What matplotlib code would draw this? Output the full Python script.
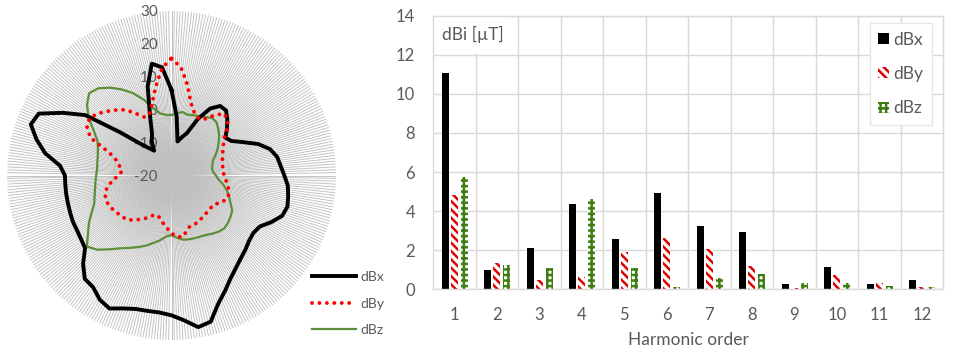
import numpy as np
import matplotlib
matplotlib.use("Agg")
import matplotlib.pyplot as plt
from matplotlib.patches import Rectangle

plt.rcParams['font.family'] = ['Lato', 'DejaVu Sans']
plt.rcParams['hatch.linewidth'] = 1.8

# ---- polar data: one value every 5 degrees, clockwise from the top ----
angles_deg = list(range(0, 360, 5))

dBx_polar = [6, -2, -9.5, -8, -6.3, -1, 3.5, 5.8, 5.8, 4, 2, 0,
             1, 4, 8, 11, 12.6, 13.3, 14.3, 15.5, 16, 16.5, 15.8, 13.5,
             11, 10.4, 10.8, 11.8, 12.8, 14.2, 16, 18.6, 21.5, 26, 26.8, 24.2,
             22.5, 21.8, 21.8, 22, 23, 24.6, 23.6, 21.5, 21, 18, 14.3, 13.6,
             13.2, 13.1, 12.8, 12.6, 12.5, 12.4, 12.4, 14, 19, 22.5, 25.5, 24.5,
             18.1, 12, 0.5, -6, -9, -10.8, -8, -6, -1, 8, 14.5, 13]

dBy_polar = [15.6, 13, 8, 2.8, 0.3, -0.7, -0.3, 2.2, 4.6, 4.2, 2.2, -0.6,
             -1.8, -2.8, -3.5, -4, -4.2, -4.3, -4, -3.4, -2.6, -1.9, -1.6, -2.1,
             -3.3, -4.5, -4.5, -4.5, -4.3, -4.1, -3.7, -3.6, -3.6, -2.4, -1, -1.4,
             -2.4, -4, -5.3, -6.6, -7.2, -6.6, -5.1, -3.7, -2.4, -0.9, -0.5, 0,
             0.6, 1.1, 1.3, 0.9, -0.2, -2, -3.8, -4.9, -4, -2.8, 0, 7.2,
             9.7, 10.4, 9.3, 7.6, 6, 4.4, 1.8, -0.4, -0.3, 2.8, 7.5, 12.8]

dBz_polar = [-1.6, -1, -0.4, -0.9, -0.5, -0.1, 0.5, 1.4, 1.2, 0.1, -1.1, -2.5,
             -3.8, -5.2, -6.6, -7.1, -7.5, -7.3, -6.5, -5.6, -4, -2.6, -1.4, -0.2,
             1.3, 1.9, 2.4, 2.7, 2.3, 1.6, 0.9, 0.5, 0.3, 0.1, -0.2, -1,
             -1.9, -1.4, 0, 1.2, 2.7, 4, 5.4, 7, 9.3, 11.9, 13.6, 11,
             9, 6.8, 5, 4.2, 3.6, 3.2, 2.9, 2.7, 2.9, 3.2, 3.8, 4.8,
             7.3, 10.8, 13.5, 15.4, 14.6, 12.6, 10.2, 7.6, 4.5, 1.1, -0.9, -1.5]

radial_ticks = [-20, -10, 0, 10, 20, 30]

# ---- harmonic bar data ----
harmonics = ['1', '2', '3', '4', '5', '6', '7', '8', '9', '10', '11', '12']
dBx_bar = [11.08, 0.99, 2.10, 4.37, 2.57, 4.91, 3.24, 2.92, 0.29, 1.16, 0.29, 0.48]
dBy_bar = [4.83, 1.36, 0.48, 0.61, 1.92, 2.64, 2.06, 1.21, 0.05, 0.73, 0.30, 0.13]
dBz_bar = [5.76, 1.24, 1.07, 4.60, 1.07, 0.10, 0.56, 0.77, 0.30, 0.30, 0.18, 0.13]

grey_text = '#595959'
green = '#5b8f3a'

fig = plt.figure(figsize=(9.57, 3.48), dpi=100)

# ---------------- polar (radar) chart ----------------
ax = fig.add_axes([7 / 957, 8 / 348, 329 / 957, 329 / 348], projection='polar')
ax.set_theta_zero_location('N')
ax.set_theta_direction(-1)
ax.set_ylim(-20, 30)
ax.set_xticks(np.deg2rad(np.arange(0, 360, 1)))
ax.set_xticklabels([])
ax.tick_params(axis='x', length=0)
ax.xaxis.grid(True, color='#c0c0c0', lw=0.65)
ax.yaxis.grid(False)
ax.set_yticks([])
ax.spines['polar'].set_visible(False)
ax.set_axisbelow(True)

theta = np.deg2rad(angles_deg + [360])
ax.plot(theta, dBx_polar + dBx_polar[:1], color='black', lw=2.8, zorder=4, label='dBx')
ax.plot(theta, dBy_polar + dBy_polar[:1], color='#ff0000', lw=2.8,
        linestyle=(0, (0.01, 1.9)), dash_capstyle='round', zorder=4, label='dBy')
ax.plot(theta, dBz_polar + dBz_polar[:1], color=green, lw=1.6, zorder=3, label='dBz')

for v in radial_ticks:
    ax.annotate(str(v), xy=(0, v), xytext=(-10, -1), textcoords='offset points',
                ha='right', va='center', fontsize=11, color=grey_text, zorder=1)

ax.legend(loc='center left', bbox_to_anchor=(312 / 957, 1 - 303.5 / 348),
          bbox_transform=fig.transFigure, frameon=False, fontsize=10,
          handlelength=3.2, handletextpad=0.25, labelspacing=1.05, borderpad=0,
          borderaxespad=0, labelcolor=grey_text)

# ---------------- bar chart ----------------
bx = fig.add_axes([433 / 957, 1 - 289.3 / 348, 510 / 957, 273.6 / 348])
x = np.arange(len(harmonics))
w = 0.17
bx.bar(x - 0.215, dBx_bar, w, color='black', label='dBx', zorder=2)
bx.bar(x, dBy_bar, w, facecolor='white', edgecolor='#e00000', lw=0,
       hatch='\\\\\\\\', label='dBy', zorder=2)
bx.bar(x + 0.235, dBz_bar, w, facecolor='white', edgecolor='#3f7d10', lw=0,
       hatch='+++', label='dBz', zorder=2)

bx.set_xlim(-0.5, len(harmonics) - 0.5)
bx.set_ylim(0, 14)
bx.set_yticks(range(0, 15, 2))
bx.set_xticks(x)
bx.set_xticklabels(harmonics)
bx.set_xticks(np.arange(0.5, len(harmonics) - 0.5, 1), minor=True)
bx.tick_params(which='both', length=0, labelsize=12, colors=grey_text, pad=13)
bx.tick_params(axis='y', pad=13)
bx.grid(True, which='major', axis='y', color='#d9d9d9', lw=1.0)
bx.grid(True, which='minor', axis='x', color='#d9d9d9', lw=1.0)
bx.set_axisbelow(True)
for s in bx.spines.values():
    s.set_color('#d9d9d9')
    s.set_linewidth(1.0)
bx.set_xlabel('Harmonic order', fontsize=12.5, color=grey_text, labelpad=6)

bx.add_patch(Rectangle((0.002, 0.862), 0.15, 0.134, transform=bx.transAxes,
                       facecolor='white', edgecolor='none', zorder=1))
bx.text(0.018, 0.93, 'dBi [\u00b5T]', transform=bx.transAxes, fontsize=12.5,
        color=grey_text, ha='left', va='center', zorder=3)

leg = bx.legend(loc='upper right', bbox_to_anchor=(0.978, 0.973), fontsize=12.5,
                handlelength=0.6, handleheight=0.6, handletextpad=0.25,
                labelspacing=1.05, borderpad=0.5, borderaxespad=0, fancybox=False,
                edgecolor='#e6e6e6', framealpha=1, labelcolor=grey_text)
leg.get_frame().set_linewidth(1.0)

fig.savefig('out.png', dpi=100)
